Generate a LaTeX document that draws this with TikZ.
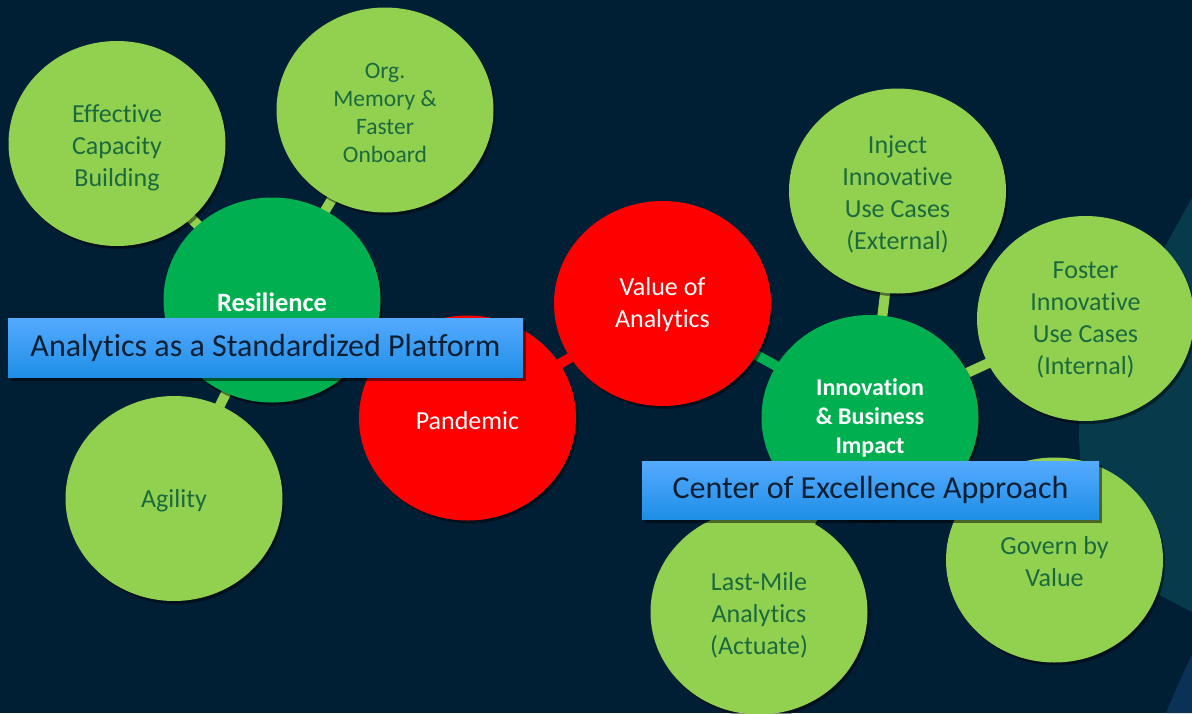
\documentclass[tikz,border=0pt]{standalone}
\usepackage{fontspec}
\setmainfont{Carlito}[Ligatures={NoCommon}]
\usetikzlibrary{shadows,shapes.geometric}
\definecolor{bgnavy}{HTML}{001F35}
\definecolor{bgteal}{HTML}{073B4B}
\definecolor{bgblue}{HTML}{0A3256}
\definecolor{lgreen}{HTML}{92D050}
\definecolor{dgreen}{HTML}{00B050}
\definecolor{redc}{HTML}{FF0000}
\definecolor{txtgreen}{HTML}{1B6A3E}
\definecolor{bantop}{HTML}{55AAFF}
\definecolor{banbot}{HTML}{1E8FE6}
\definecolor{bantxt}{HTML}{0B1F33}
\pgfdeclarelayer{bglayer}
\pgfdeclarelayer{linklayer}
\pgfsetlayers{bglayer,linklayer,main}
\tikzset{
  bubble/.style={ellipse, minimum width=217pt, minimum height=205pt, inner sep=0pt,
    drop shadow={shadow xshift=2pt, shadow yshift=-3pt, opacity=0.45, fill=black}},
  leaf/.style={bubble, fill=lgreen},
  hub/.style={bubble, fill=dgreen},
  core/.style={bubble, fill=redc},
  leaftxt/.style={align=center, inner sep=0pt, text=txtgreen, font=\fontsize{26}{32}\selectfont},
  hubtxt/.style={align=center, inner sep=0pt, text=white, font=\bfseries\fontsize{24}{28.6}\selectfont},
  coretxt/.style={align=center, inner sep=0pt, text=white, font=\fontsize{26}{32}\selectfont},
  link/.style={line width=10pt, draw=lgreen},
  banner/.style={rectangle, inner sep=0pt, top color=bantop, bottom color=banbot,
    text=bantxt, font=\fontsize{32}{36}\selectfont,
    drop shadow={shadow xshift=3pt, shadow yshift=-4pt, opacity=0.5, fill=black}}
}
\begin{document}
\begin{tikzpicture}[x=1pt,y=-1pt]
\begin{pgfonlayer}{bglayer}
\fill[bgnavy] (0,0) rectangle (1192,713);
\fill[bgteal] (1192,198) -- (1162,252) .. controls (1118,330) and (1079,385) .. (1079,432)
  .. controls (1079,500) and (1105,555) .. (1150,590) -- (1192,612) -- cycle;
\fill[bgblue] (1192,655) .. controls (1183,672) and (1175,692) .. (1166,713) -- (1192,713) -- cycle;
\end{pgfonlayer}
\useasboundingbox (0,0) rectangle (1192,713);
% bubbles
\node[leaf] (eff) at (117,143.5) {};
\node[leaf] (org) at (385,110) {};
\node[hub]  (res) at (272,300) {};
\node[leaf] (agi) at (174,498.5) {};
\node[core] (pan) at (467.5,418) {};
\node[core] (val) at (662.5,303.5) {};
\node[hub]  (inn) at (870,417.5) {};
\node[leaf] (inj) at (897.5,191) {};
\node[leaf] (fos) at (1085.5,318.5) {};
\node[leaf] (last) at (759,612) {};
\node[leaf] (gov) at (1054.5,560) {};
% texts
\node[leaftxt] (efft) at (117,148) {Effective\\Capacity\\Building};
\node[leaftxt, font=\fontsize{23.5}{28.3}\selectfont] (orgt) at (385,113) {Org.\\Memory \&\\Faster\\Onboard};
\node[hubtxt, font=\bfseries\fontsize{26.5}{30}\selectfont] (rest) at (272,302) {Resilience};
\node[leaftxt] (agit) at (174,501) {Agility};
\node[coretxt] (pant) at (467.5,421) {Pandemic};
\node[coretxt] (valt) at (662.5,305) {Value of\\Analytics};
\node[hubtxt] (innt) at (870,418) {Innovation\\\& Business\\Impact};
\node[leaftxt] (injt) at (897.5,194.5) {Inject\\Innovative\\Use Cases\\(External)};
\node[leaftxt] (fost) at (1085.5,320) {Foster\\Innovative\\Use Cases\\(Internal)};
\node[leaftxt] (lastt) at (759,615) {Last-Mile\\Analytics\\(Actuate)};
\node[leaftxt] (govt) at (1054.5,562) {Govern by\\Value};
% connectors (behind bubbles)
\begin{pgfonlayer}{linklayer}
\draw[link] (res.center) -- (eff.center);
\draw[link] (res.center) -- (org.center);
\draw[link] (res.center) -- (agi.center);
\draw[link] (res.center) -- (pan.center);
\draw[link, draw=redc] (pan.center) -- (val.center);
\draw[link, draw=dgreen] (val.center) -- (inn.center);
\draw[link] (inn.center) -- (inj.center);
\draw[link] (inn.center) -- (fos.center);
\draw[link] (inn.center) -- (last.center);
\draw[link] (inn.center) -- (gov.center);
\end{pgfonlayer}
% banners
\node[banner, minimum width=515pt, minimum height=59pt] (ban1) at (265.5,347.5) {\raisebox{-1.5pt}{Analytics as a Standardized Platform}};
\node[banner, minimum width=457pt, minimum height=58pt] (ban2) at (870.5,490) {\raisebox{-1.5pt}{Center of Excellence Approach}};
\end{tikzpicture}
\end{document}
